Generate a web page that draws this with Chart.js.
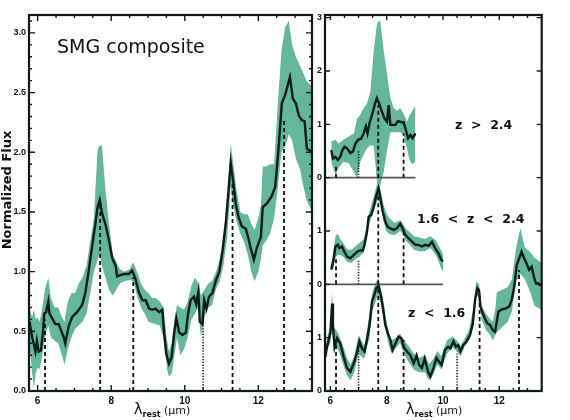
<!DOCTYPE html>
<html>
<head>
<meta charset="utf-8">
<script src="https://cdn.jsdelivr.net/npm/chart.js@4.4.0/dist/chart.umd.min.js"></script>
<style>
html, body { margin: 0; padding: 0; background: #fff; }
#wrap { position: relative; width: 570px; height: 420px; overflow: hidden; }
#leftPanel { position: absolute; left: 0; top: 0; }
#rightPanel { position: absolute; left: 310px; top: 0; }
</style>
</head>
<body>
<div id="wrap">
  <canvas id="leftPanel" width="318" height="420"></canvas>
  <canvas id="rightPanel" width="260" height="420"></canvas>
</div>
<script>
// ---- SMG composite (left panel) ----
var compLam = [5.77,5.79,5.85,5.89,5.94,5.98,6.03,6.09,6.14,6.18,
  6.23,6.29,6.32,6.39,6.48,6.57,6.62,6.71,6.75,6.85,
  6.94,7.07,7.21,7.30,7.39,7.48,7.57,7.63,7.69,7.75,
  7.85,7.94,8.03,8.12,8.16,8.25,8.35,8.48,8.57,8.66,
  8.75,8.85,8.94,9.03,9.12,9.21,9.30,9.39,9.44,9.50,
  9.57,9.64,9.71,9.77,9.85,9.94,10.03,10.09,10.16,10.25,
  10.31,10.37,10.41,10.48,10.53,10.59,10.66,10.75,10.85,10.94,
  11.03,11.12,11.19,11.25,11.32,11.39,11.47,11.55,11.66,11.73,
  11.79,11.88,11.96,12.07,12.12,12.23,12.36,12.46,12.55,12.64,
  12.73,12.80,12.86,12.94,13.02,13.10,13.18,13.26,13.32,13.42,13.51];
var compFlux = [0.58,0.56,0.45,0.40,0.33,0.42,0.33,0.34,0.48,0.65,
  0.66,0.75,0.65,0.61,0.56,0.56,0.52,0.45,0.40,0.55,
  0.62,0.66,0.72,0.83,1.01,1.21,1.40,1.54,1.60,1.49,
  1.39,1.26,1.11,1.05,0.96,0.97,0.98,0.98,1.01,0.94,
  0.83,0.76,0.76,0.69,0.68,0.69,0.66,0.68,0.48,0.31,
  0.23,0.28,0.48,0.61,0.49,0.47,0.49,0.65,0.76,0.79,
  0.73,0.83,0.58,0.56,0.76,0.69,0.79,0.82,0.93,1.00,
  1.18,1.42,1.68,1.91,1.75,1.56,1.45,1.38,1.36,1.28,
  1.20,1.10,1.20,1.29,1.54,1.57,1.63,1.71,2.03,2.41,
  2.48,2.56,2.63,2.45,2.41,2.31,2.27,2.26,2.03,2.01,2.01];
var compBandLam = [5.77,5.85,5.90,5.95,6.00,6.05,6.10,6.15,6.20,6.29,
  6.36,6.46,6.56,6.66,6.73,6.82,6.92,7.02,7.12,7.22,
  7.33,7.43,7.53,7.63,7.69,7.75,7.84,7.94,8.04,8.14,
  8.24,8.35,8.50,8.60,8.70,8.81,8.91,9.01,9.11,9.21,
  9.32,9.42,9.52,9.57,9.65,9.72,9.79,9.88,9.98,10.08,
  10.18,10.28,10.37,10.44,10.54,10.64,10.74,10.85,10.95,11.05,
  11.15,11.25,11.32,11.41,11.51,11.61,11.71,11.81,11.90,12.00,
  12.07,12.12,12.22,12.32,12.43,12.53,12.63,12.73,12.83,12.92,
  13.02,13.14,13.20,13.31,13.46];
var compBandHi = [0.70,0.62,0.68,0.60,0.62,0.58,0.65,0.75,0.85,0.95,
  0.78,0.70,0.70,0.62,0.58,0.75,0.82,0.82,0.90,0.95,
  1.05,1.25,1.45,2.02,2.06,2.05,1.70,1.40,1.15,1.08,
  1.02,1.00,1.02,1.08,1.00,0.90,0.85,0.82,0.78,0.78,
  0.75,0.70,0.42,0.33,0.40,0.60,0.72,0.70,0.68,0.75,
  0.88,0.95,0.90,0.80,0.85,0.90,0.92,1.00,1.10,1.28,
  1.55,2.08,1.90,1.68,1.50,1.48,1.48,1.40,1.35,1.45,
  1.55,1.88,1.88,1.90,1.90,2.40,2.85,3.05,3.10,2.90,
  2.80,2.72,2.68,2.60,2.55];
var compBandLo = [0.40,0.15,0.02,0.15,0.20,0.18,0.25,0.35,0.45,0.55,
  0.45,0.42,0.40,0.30,0.22,0.35,0.45,0.52,0.55,0.58,
  0.65,0.82,1.00,1.10,1.15,1.05,0.95,0.85,0.80,0.85,
  0.90,0.92,0.93,0.92,0.80,0.70,0.65,0.58,0.57,0.56,
  0.55,0.45,0.18,0.12,0.15,0.30,0.45,0.30,0.35,0.45,
  0.60,0.65,0.70,0.45,0.62,0.70,0.72,0.85,0.92,1.05,
  1.28,1.72,1.55,1.42,1.32,1.25,1.15,1.00,0.92,1.00,
  1.10,1.22,1.26,1.32,1.45,1.70,2.00,2.05,2.15,2.10,
  1.95,1.85,1.75,1.60,1.50];
var compDashLam = [6.2, 7.7, 8.6, 11.3, 12.7];
var compDashTop = [0.60, 1.55, 0.95, 1.75, 2.27];
var compDotLam = [10.5];
var compDotTop = [0.62];

// ---- z > 2.4 (right panel, top) ----
var hizLam = [6.03,6.09,6.18,6.26,6.35,6.41,6.50,6.59,6.71,6.80,
  6.89,6.98,7.09,7.18,7.26,7.32,7.39,7.48,7.57,7.65,
  7.73,7.83,7.92,8.01,8.07,8.13,8.22,8.31,8.40,8.53,
  8.60,8.68,8.76,8.84,8.92,9.02];
var hizFlux = [0.52,0.36,0.39,0.33,0.39,0.49,0.58,0.55,0.46,0.49,
  0.64,0.71,0.73,0.83,0.96,0.83,1.02,1.18,1.36,1.49,
  1.39,1.24,1.11,1.05,1.36,0.99,0.99,0.99,1.06,1.04,
  1.04,0.89,0.74,0.80,0.74,0.83];
var hizBandLam = [6.03,6.18,6.29,6.47,6.65,6.83,6.95,7.06,7.18,7.30,
  7.42,7.54,7.66,7.77,7.89,8.01,8.13,8.25,8.37,8.48,
  8.60,8.72,8.80,8.90,9.02];
var hizBandHi = [0.68,0.71,0.64,0.71,0.77,0.83,1.11,1.18,1.30,1.39,
  1.61,2.40,2.90,2.95,2.40,1.95,1.50,1.30,1.25,1.30,
  1.20,1.05,1.15,1.25,1.35];
var hizBandLo = [0.30,0.05,0.18,0.30,0.27,0.11,-0.01,0.30,0.43,0.55,
  0.61,0.60,-0.10,-0.15,0.10,0.50,0.85,0.85,0.85,0.85,
  0.80,0.55,0.35,0.25,0.30];
var hizDashLam = [6.2, 7.7, 8.6];
var hizDashTop = [0.25, 1.36, 0.83];
var hizDotLam = [7.0];
var hizDotTop = [0.52];

// ---- 1.6 < z < 2.4 (right panel, middle) ----
var midzLam = [6.03,6.12,6.18,6.26,6.32,6.41,6.50,6.59,6.71,6.83,
  6.95,7.06,7.14,7.21,7.30,7.36,7.45,7.54,7.62,7.71,
  7.78,7.86,7.95,8.03,8.13,8.24,8.36,8.48,8.56,8.66,
  8.78,8.90,9.02,9.13,9.25,9.37,9.49,9.61,9.72,9.84,9.94,10.00];
var midzFlux = [0.28,0.49,0.71,0.74,0.68,0.71,0.61,0.52,0.49,0.55,
  0.61,0.64,0.63,0.74,0.99,1.27,1.30,1.46,1.64,1.80,
  1.61,1.36,1.18,1.08,1.05,1.02,1.05,1.14,1.05,0.93,
  0.86,0.80,0.74,0.74,0.71,0.74,0.72,0.80,0.68,0.58,0.46,0.43];
var midzBandLam = [6.03,6.11,6.18,6.26,6.35,6.45,6.60,6.75,6.90,7.04,
  7.19,7.29,7.39,7.49,7.59,7.69,7.79,7.88,7.98,8.08,
  8.28,8.47,8.57,8.67,8.81,8.97,9.16,9.35,9.55,9.75,9.95,10.00];
var midzBandHi = [0.35,0.65,0.90,0.95,0.85,0.78,0.65,0.65,0.72,0.78,
  0.85,1.10,1.38,1.55,1.75,1.95,1.75,1.50,1.35,1.25,
  1.15,1.20,1.15,1.05,0.98,0.90,0.88,0.85,0.90,0.82,0.62,0.55];
var midzBandLo = [0.25,0.30,0.50,0.55,0.55,0.52,0.42,0.40,0.48,0.52,
  0.60,0.85,1.15,1.30,1.45,1.60,1.45,1.20,1.00,0.95,
  0.92,1.00,0.95,0.82,0.75,0.65,0.62,0.62,0.68,0.55,0.28,0.25];
var midzDashLam = [6.2, 7.7, 8.6];
var midzDashTop = [0.49, 1.70, 0.96];
var midzDotLam = [7.0];
var midzDotTop = [0.46];

// ---- z < 1.6 (right panel, bottom) ----
var lozLam = [5.82,5.88,5.94,6.00,6.06,6.09,6.15,6.24,6.35,6.47,
  6.59,6.71,6.83,6.95,7.03,7.12,7.21,7.30,7.39,7.48,
  7.56,7.63,7.71,7.79,7.86,7.95,8.04,8.13,8.21,8.31,
  8.42,8.52,8.60,8.72,8.84,8.96,9.06,9.15,9.25,9.35,
  9.47,9.55,9.66,9.77,9.86,9.95,10.07,10.18,10.26,10.37,
  10.46,10.54,10.62,10.72,10.84,10.96,11.06,11.14,11.22,11.28,
  11.33,11.41,11.49,11.57,11.67,11.77,11.85,11.91,11.97,12.09,
  12.24,12.36,12.44,12.53,12.62,12.71,12.79,12.88,12.97,13.06,
  13.15,13.23,13.30,13.38,13.44,13.51];
var lozFlux = [0.64,0.83,0.96,1.08,1.64,1.21,0.83,0.99,0.89,0.64,
  0.43,0.36,0.52,0.74,0.93,0.80,0.74,0.96,1.24,1.68,
  1.80,1.93,1.97,1.80,1.58,1.24,1.08,0.96,0.77,0.89,
  1.02,0.99,0.83,0.74,0.67,0.52,0.67,0.49,0.43,0.61,
  0.36,0.27,0.43,0.62,0.55,0.49,0.77,0.83,0.80,0.93,
  0.83,0.86,0.74,0.86,0.93,1.05,1.27,1.71,1.93,1.89,
  1.58,1.46,1.36,1.27,1.24,1.14,1.11,1.30,1.49,1.53,
  1.55,1.59,1.71,1.96,2.36,2.49,2.61,2.49,2.39,2.27,
  2.33,2.14,2.02,2.02,1.99,2.00];
var lozBandLam = [5.81,5.90,6.00,6.06,6.12,6.20,6.30,6.45,6.60,6.72,
  6.85,7.00,7.10,7.20,7.29,7.39,7.49,7.59,7.69,7.78,
  7.88,7.98,8.08,8.18,8.32,8.47,8.62,8.77,8.97,9.16,
  9.36,9.50,9.65,9.80,9.94,10.14,10.34,10.48,10.63,10.78,
  10.93,11.08,11.18,11.28,11.37,11.52,11.67,11.77,11.86,11.91,
  12.10,12.30,12.45,12.60,12.75,12.90,13.10,13.25,13.51];
var lozBandHi = [0.75,1.05,1.20,1.85,1.20,1.15,1.05,0.85,0.60,0.50,
  0.65,1.05,0.95,0.85,1.10,1.45,1.85,2.00,2.12,1.95,
  1.70,1.35,1.10,0.95,1.00,1.08,0.95,0.85,0.70,0.62,
  0.68,0.50,0.60,0.75,0.65,0.95,1.02,0.95,0.85,1.00,
  1.15,1.55,2.05,2.00,1.60,1.45,1.35,1.30,1.55,1.85,
  1.90,1.95,2.10,2.70,3.05,2.70,2.60,2.50,2.40];
var lozBandLo = [0.55,0.80,0.90,1.30,0.70,0.85,0.75,0.50,0.28,0.20,
  0.35,0.70,0.65,0.60,0.80,1.00,1.50,1.65,1.80,1.65,
  1.40,1.10,0.85,0.70,0.80,0.90,0.70,0.55,0.40,0.35,
  0.35,0.20,0.30,0.50,0.40,0.70,0.82,0.75,0.65,0.85,
  0.95,1.20,1.80,1.75,1.35,1.15,1.05,0.95,1.05,1.10,
  1.20,1.30,1.50,2.05,2.20,2.10,1.85,1.60,1.52];
var lozDashLam = [6.2, 7.7, 8.6, 11.3, 12.7];
var lozDashTop = [0.96, 1.96, 0.96, 1.77, 2.27];
var lozDotLam = [7.0, 10.5];
var lozDotTop = [0.77, 0.74];

var specOffset = [4, 2, 0];   // z>2.4, 1.6<z<2.4, z<1.6
var rightTickLabels = ['0', '1', '0', '1', '0', '1', '2', '3'];

var bandColor = 'rgb(100,182,156)';
var lineColor = '#0c1d14';
var inkColor = '#121212';

function pts(xs, ys, off) {
  return xs.map(function (x, i) { return { x: x, y: ys[i] + (off || 0) }; });
}
function vlines(xs, tops, off) {
  var out = [];
  xs.forEach(function (x, i) {
    out.push({ x: x, y: off }, { x: x, y: off + tops[i] }, { x: x, y: null });
  });
  return out;
}
function spectrum(lam, flux, off) {
  return { data: pts(lam, flux, off), borderColor: lineColor, borderWidth: 2.4, pointRadius: 0, fill: false, order: 0 };
}
function band(lam, hi, lo, off) {
  return [
    { data: pts(lam, hi, off), borderColor: 'rgba(0,0,0,0)', borderWidth: 0, pointRadius: 0, backgroundColor: bandColor, fill: '+1', order: 3 },
    { data: pts(lam, lo, off), borderColor: 'rgba(0,0,0,0)', borderWidth: 0, pointRadius: 0, fill: false, order: 3 }
  ];
}
function dashed(lam, top, off) {
  return { data: vlines(lam, top, off), borderColor: inkColor, borderWidth: 1.8, borderDash: [4, 3], pointRadius: 0, fill: false, spanGaps: false, order: 1 };
}
function dotted(lam, top, off) {
  return { data: vlines(lam, top, off), borderColor: inkColor, borderWidth: 1.6, borderDash: [1.2, 1.6], pointRadius: 0, fill: false, spanGaps: false, order: 1 };
}

// inward IDL style ticks + frame
function tickLoop(min, max, step, major, fn) {
  var v = Math.ceil(min / step - 1e-6) * step;
  for (; v <= max + 1e-6; v += step) {
    var r = v / major;
    fn(v, Math.abs(r - Math.round(r)) < 1e-6);
  }
}
var framePlugin = {
  id: 'frame',
  afterDatasetsDraw: function (chart, args, o) {
    var ctx = chart.ctx, a = chart.chartArea, xs = chart.scales.x, ys = chart.scales.y;
    ctx.save();
    ctx.strokeStyle = '#0e1a12';
    ctx.lineWidth = 1.4;
    ctx.beginPath();
    tickLoop(xs.min, xs.max, o.xMinor, o.xMajor, function (v, mj) {
      var p = xs.getPixelForValue(v), l = mj ? o.majorLen : o.minorLen;
      ctx.moveTo(p, a.bottom); ctx.lineTo(p, a.bottom - l);
      ctx.moveTo(p, a.top); ctx.lineTo(p, a.top + l);
    });
    tickLoop(ys.min, ys.max, o.yMinor, o.yMajor, function (v, mj) {
      var p = ys.getPixelForValue(v), l = mj ? o.majorLen : o.minorLen;
      ctx.moveTo(a.left, p); ctx.lineTo(a.left + l, p);
      ctx.moveTo(a.right, p); ctx.lineTo(a.right - l, p);
    });
    ctx.stroke();
    ctx.lineWidth = 2.2;
    ctx.strokeRect(a.left, a.top, a.right - a.left, a.bottom - a.top);
    ctx.restore();
  }
};
var textPlugin = {
  id: 'panelText',
  afterDraw: function (chart, args, o) {
    var ctx = chart.ctx;
    ctx.save();
    ctx.fillStyle = '#111';
    (o.labels || []).forEach(function (t) {
      ctx.font = t.font;
      ctx.textAlign = 'left';
      ctx.textBaseline = 'alphabetic';
      ctx.fillText(t.text, t.x, t.y);
    });
    // x title: lambda_rest (um)
    var cx = o.xTitleX, by = o.xTitleY;
    ctx.font = '15px "DejaVu Sans"';
    var w1 = ctx.measureText('\u03bb').width;
    ctx.font = 'bold 8px "DejaVu Sans"';
    var w2 = ctx.measureText('rest').width;
    ctx.font = '11px "DejaVu Sans"';
    var w3 = ctx.measureText(' (\u03bcm)').width;
    var x = cx - (w1 + w2 + w3) / 2;
    ctx.textAlign = 'left';
    ctx.font = '15px "DejaVu Sans"';
    ctx.fillText('\u03bb', x, by);
    ctx.font = 'bold 8px "DejaVu Sans"';
    ctx.fillText('rest', x + w1, by + 3);
    ctx.font = '11px "DejaVu Sans"';
    ctx.fillText(' (\u03bcm)', x + w1 + w2, by);
    if (o.yTitle) {
      ctx.translate(o.yTitle.x, o.yTitle.y);
      ctx.rotate(-Math.PI / 2);
      ctx.textAlign = 'center';
      ctx.font = 'bold 13px "DejaVu Sans"';
      ctx.fillText(o.yTitle.text, 0, 0);
    }
    ctx.restore();
  }
};

var tickFontX = { family: 'Liberation Sans', weight: 'bold', size: 10 };
var tickFontY = { family: 'Liberation Sans', weight: 'bold', size: 9 };

// ---- left chart ----
var leftSets = [spectrum(compLam, compFlux, 0),
  dashed(compDashLam, compDashTop, 0),
  dotted(compDotLam, compDotTop, 0)].concat(band(compBandLam, compBandHi, compBandLo, 0));

new Chart(document.getElementById('leftPanel'), {
  type: 'line',
  data: { datasets: leftSets },
  plugins: [framePlugin, textPlugin],
  options: {
    responsive: false, animation: false, events: [],
    layout: { padding: { top: 15, right: 6, left: 0, bottom: 0 } },
    plugins: {
      legend: { display: false }, tooltip: { enabled: false },
      frame: { xMinor: 0.5, xMajor: 2, yMinor: 0.1, yMajor: 0.5, majorLen: 6, minorLen: 3 },
      panelText: {
        labels: [{ text: 'SMG composite', x: 57, y: 53, font: '19px "DejaVu Sans"' }],
        xTitleX: 162, xTitleY: 414,
        yTitle: { text: 'Normalized Flux', x: 10.5, y: 190 }
      }
    },
    scales: {
      x: {
        type: 'linear', min: 5.765, max: 13.46,
        afterFit: function (s) { s.height = 29; },
        grid: { display: false, drawTicks: false }, border: { display: false },
        ticks: { stepSize: 2, includeBounds: false, autoSkip: false, maxRotation: 0, padding: 4, font: tickFontX, color: '#111' }
      },
      y: {
        type: 'linear', min: 0, max: 3.15,
        afterFit: function (s) { s.width = 29; },
        grid: { display: false, drawTicks: false }, border: { display: false },
        ticks: { stepSize: 0.5, includeBounds: false, padding: 3, font: tickFontY, color: '#111',
          callback: function (v) { return v.toFixed(1); } }
      }
    }
  }
});

// ---- right chart ----
var baseLines = [{ x: 5.808, y: specOffset[0] }, { x: hizLam[hizLam.length - 1], y: specOffset[0] }, { x: 5.808, y: null },
  { x: 5.808, y: specOffset[1] }, { x: midzLam[midzLam.length - 1], y: specOffset[1] }];

var rightSets = [
  spectrum(hizLam, hizFlux, specOffset[0]),
  spectrum(midzLam, midzFlux, specOffset[1]),
  spectrum(lozLam, lozFlux, specOffset[2]),
  dashed(hizDashLam, hizDashTop, specOffset[0]),
  dotted(hizDotLam, hizDotTop, specOffset[0]),
  dashed(midzDashLam, midzDashTop, specOffset[1]),
  dotted(midzDotLam, midzDotTop, specOffset[1]),
  dashed(lozDashLam, lozDashTop, specOffset[2]),
  dotted(lozDotLam, lozDotTop, specOffset[2]),
  { data: baseLines, borderColor: '#555', borderWidth: 1.6, pointRadius: 0, fill: false, spanGaps: false, order: 2 }
].concat(band(hizBandLam, hizBandHi, hizBandLo, specOffset[0]),
  band(midzBandLam, midzBandHi, midzBandLo, specOffset[1]),
  band(lozBandLam, lozBandHi, lozBandLo, specOffset[2]));

new Chart(document.getElementById('rightPanel'), {
  type: 'line',
  data: { datasets: rightSets },
  plugins: [framePlugin, textPlugin],
  options: {
    responsive: false, animation: false, events: [],
    layout: { padding: { top: 15, right: 28.3, left: 0, bottom: 0 } },
    plugins: {
      legend: { display: false }, tooltip: { enabled: false },
      frame: { xMinor: 0.5, xMajor: 2, yMinor: 1, yMajor: 1, majorLen: 5, minorLen: 3 },
      panelText: {
        labels: [
          { text: 'z  >  2.4', x: 145, y: 129, font: 'bold 12.5px "DejaVu Sans"' },
          { text: '1.6  <  z  <  2.4', x: 107, y: 223, font: 'bold 12.5px "DejaVu Sans"' },
          { text: 'z  <  1.6', x: 98, y: 317, font: 'bold 12.5px "DejaVu Sans"' }
        ],
        xTitleX: 124, xTitleY: 414
      }
    },
    scales: {
      x: {
        type: 'linear', min: 5.808, max: 13.506,
        afterFit: function (s) { s.height = 29; },
        grid: { display: false, drawTicks: false }, border: { display: false },
        ticks: { stepSize: 2, includeBounds: false, autoSkip: false, maxRotation: 0, padding: 4, font: tickFontX, color: '#111' }
      },
      y: {
        type: 'linear', min: 0, max: 7.05,
        afterFit: function (s) { s.width = 15; },
        grid: { display: false, drawTicks: false }, border: { display: false },
        ticks: { stepSize: 1, includeBounds: false, padding: 3, font: tickFontY, color: '#111',
          callback: function (v, i) { return rightTickLabels[i]; } }
      }
    }
  }
});
</script>
</body>
</html>
